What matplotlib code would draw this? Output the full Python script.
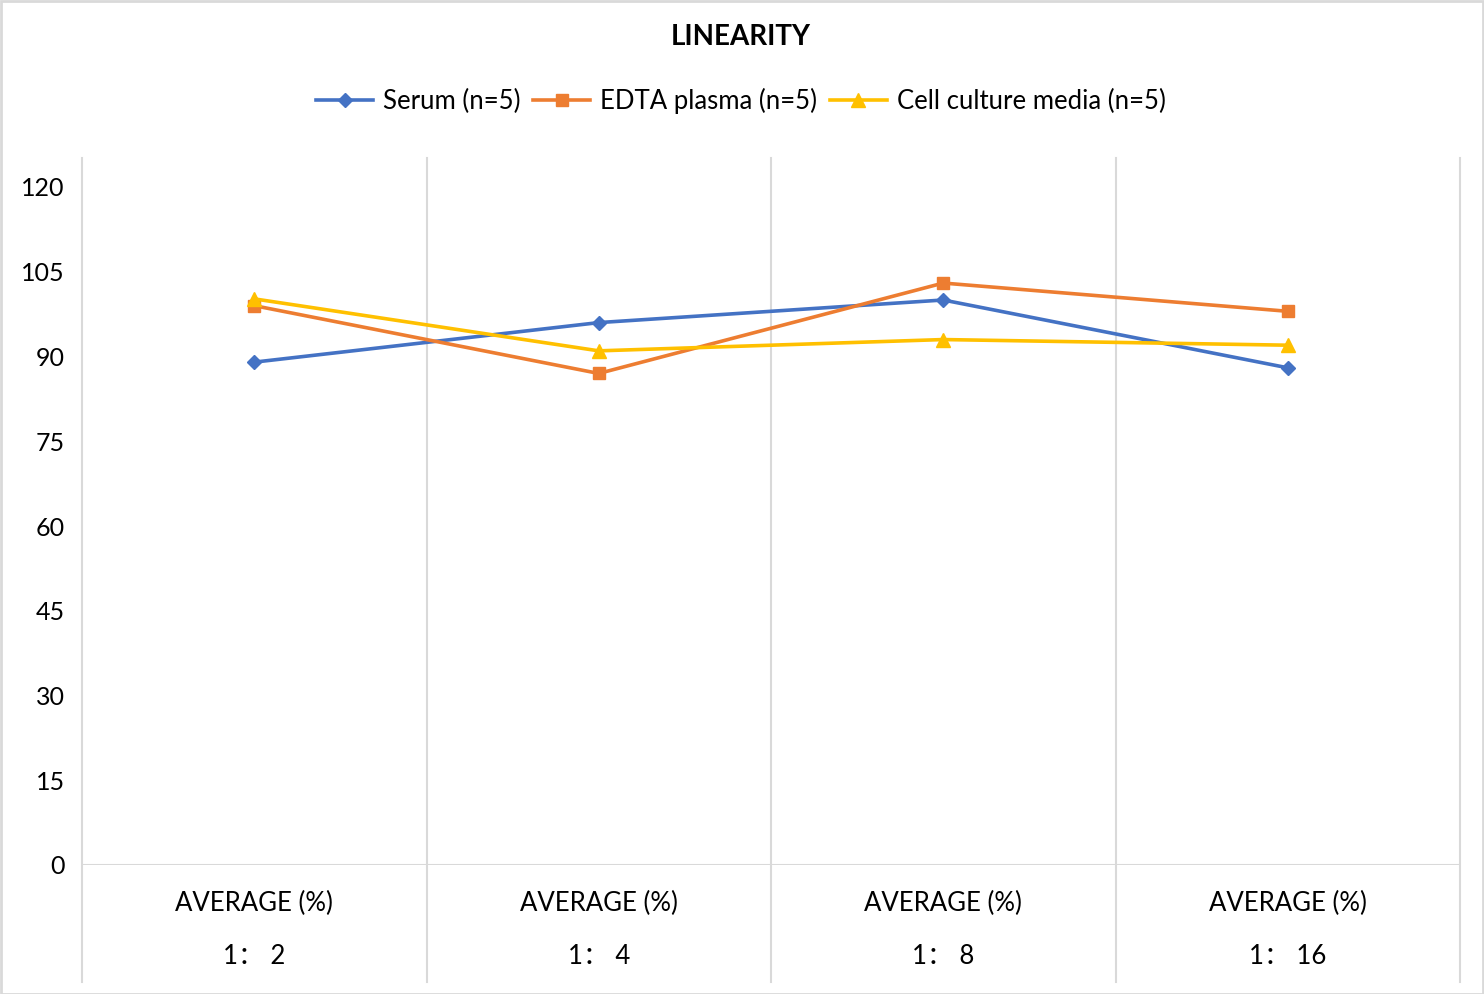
import matplotlib
matplotlib.use("Agg")
import matplotlib.pyplot as plt
from matplotlib.patches import Rectangle

categories = ["1：2", "1：4", "1：8", "1：16"]
cat_label_top = "AVERAGE (%)"
serum = [89.0, 96.0, 100.0, 88.0]
edta = [99.0, 87.0, 103.0, 98.0]
cell = [100.2, 91.0, 93.0, 92.0]
series_names = ["Serum (n=5)", "EDTA plasma (n=5)", "Cell culture media (n=5)"]
yticks = [0, 15, 30, 45, 60, 75, 90, 105, 120]

plt.rcParams['font.family'] = ['Lato', 'Noto Sans CJK SC', 'DejaVu Sans']

W, H = 1484, 994
fig = plt.figure(figsize=(W / 100, H / 100), dpi=100)
left, right, bottom, top = 82, 1460, 865, 158
ax = fig.add_axes([left / W, (H - bottom) / H, (right - left) / W, (bottom - top) / H])

grid_c = "#D9D9D9"
x = list(range(len(categories)))
ytop = 120 + (187 - top) / ((bottom - 187) / 120)
ax.set_xlim(-0.5, len(categories) - 0.5)
ax.set_ylim(0, ytop)

below = (982 - bottom) / (bottom - top)
for xv in [i - 0.5 for i in range(len(categories) + 1)]:
    ax.axvline(xv, ymin=-below, ymax=1, color=grid_c, lw=1.5, clip_on=False, zorder=1)
ax.axhline(0, color=grid_c, lw=1.5, zorder=1)

colors = ["#4472C4", "#ED7D31", "#FFC000"]
markers = ["D", "s", "^"]
msizes = [7.5, 9, 9.5]
for vals, name, c, m, ms in zip([serum, edta, cell], series_names, colors, markers, msizes):
    ax.plot(x, vals, color=c, lw=2.6, marker=m, markersize=ms, label=name, zorder=3)

for s in ax.spines.values():
    s.set_visible(False)
ax.set_xticks([])
ax.set_yticks(yticks)
ax.set_yticklabels([str(v) for v in yticks], fontsize=18)
ax.tick_params(axis='y', length=0, pad=12.5)

for i, lab in enumerate(categories):
    ax.text(i, -(903 - bottom) / (bottom - top), cat_label_top, transform=ax.get_xaxis_transform(),
            ha='center', va='center', fontsize=18.5)
    ax.text(i, -(957 - bottom) / (bottom - top), lab.replace("：", "： "), transform=ax.get_xaxis_transform(),
            ha='center', va='center', fontsize=18.5)

fig.text(741 / W, 1 - 37 / H, "LINEARITY", ha='center', va='center', fontsize=20, fontweight='bold')

leg = fig.legend(loc='center', bbox_to_anchor=(741 / W, 1 - 101 / H), ncol=3, frameon=False,
                 fontsize=18.5, handlelength=2.2, columnspacing=0.5, handletextpad=0.4)

fig.patches.append(Rectangle((0.5 / W, 0.5 / H), 1 - 1.5 / W, 1 - 1.5 / H, transform=fig.transFigure,
                             fill=False, edgecolor=grid_c, lw=2))

fig.savefig("out.png", dpi=100, facecolor="white")
